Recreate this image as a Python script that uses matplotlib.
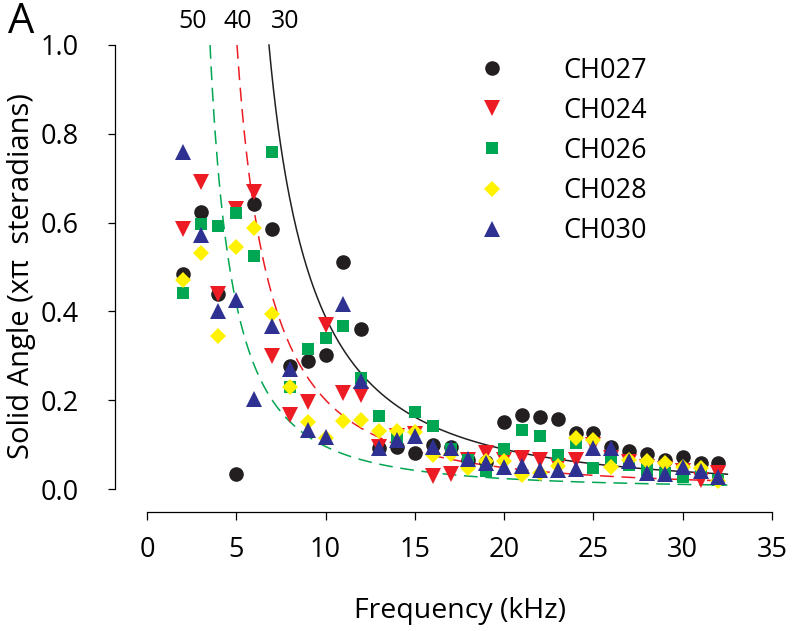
import numpy as np
import matplotlib
matplotlib.use("Agg")
import matplotlib.pyplot as plt

plt.rcParams['font.family'] = ['Open Sans', 'DejaVu Sans']

# frequencies (kHz)
freq = [2, 3, 4, 5, 6, 7, 8, 9, 10, 11, 12, 13, 14, 15, 16, 17,
        18, 19, 20, 21, 22, 23, 24, 25, 26, 27, 28, 29, 30, 31, 32]

# solid angle (x pi steradians) per animal
ch027 = [0.485, 0.624, 0.44, 0.033, 0.643, 0.585, 0.276, 0.289, 0.302, 0.512, 0.361,
         0.092, 0.095, 0.082, 0.100, 0.095, 0.065, 0.060, 0.152, 0.167, 0.162, 0.157,
         0.127, 0.126, 0.095, 0.086, 0.079, 0.065, 0.072, 0.059, 0.059]
ch024 = [0.585, 0.691, 0.44, 0.630, 0.670, 0.299, 0.167, 0.196, 0.370, 0.216, 0.212,
         0.095, 0.120, 0.125, 0.029, 0.034, 0.065, 0.082, 0.065, 0.069, 0.065, 0.052,
         0.065, 0.100, 0.070, 0.060, 0.050, 0.045, 0.040, 0.020, 0.035]
ch026 = [0.442, 0.597, 0.592, 0.622, 0.524, 0.759, 0.229, 0.315, 0.340, 0.368, 0.250,
         0.165, 0.115, 0.173, 0.142, 0.090, 0.065, 0.041, 0.090, 0.132, 0.120, 0.077,
         0.103, 0.047, 0.069, 0.055, 0.043, 0.035, 0.028, 0.035, 0.020]
ch028 = [0.470, 0.532, 0.345, 0.546, 0.588, 0.394, 0.229, 0.152, 0.114, 0.154, 0.156,
         0.131, 0.131, 0.129, 0.077, 0.080, 0.047, 0.062, 0.062, 0.032, 0.035, 0.052,
         0.114, 0.111, 0.049, 0.065, 0.062, 0.058, 0.049, 0.047, 0.017]
ch030 = [0.759, 0.573, 0.400, 0.425, 0.202, 0.368, 0.270, 0.133, 0.117, 0.417, 0.243,
         0.092, 0.110, 0.120, 0.095, 0.092, 0.067, 0.058, 0.049, 0.052, 0.043, 0.043,
         0.044, 0.093, 0.092, 0.062, 0.035, 0.034, 0.049, 0.040, 0.028]

series = [('CH027', ch027, 'o', '#231f20', 10.5),
          ('CH024', ch024, 'v', '#ed1c24', 11),
          ('CH026', ch026, 's', '#00a651', 9),
          ('CH028', ch028, 'D', '#fff200', 8.5),
          ('CH030', ch030, '^', '#2e3192', 11)]

# model curves: frequency where solid angle reaches 1.0 (x pi sr)
curve_labels = ['30', '40', '50']
curve_ftop = [6.83, 5.04, 3.53]
curve_styles = [('#231f20', '-'), ('#ed1c24', (0, (9, 5))), ('#00a651', (0, (9, 5)))]

fig = plt.figure(figsize=(8, 6.31), dpi=100)
ax = fig.add_axes([0.18375, 0.225, 0.78125, 0.7037])

for ftop, (col, ls) in zip(curve_ftop, curve_styles):
    k = 0.866 * ftop
    f = np.linspace(ftop, 32.5, 400)
    s = k / f
    omega = 2 * (1 - np.sqrt(1 - s ** 2))
    ax.plot(f, omega, color=col, linestyle=ls, lw=1.1, clip_on=False)

for name, vals, mk, col, ms in series:
    ax.plot(freq, vals, linestyle='none', marker=mk, color=col, markersize=ms,
            markeredgewidth=0, label=name, clip_on=False)

ax.set_xlim(0, 35)
ax.set_ylim(0, 1.0)
ax.set_xticks(range(0, 36, 5))
ax.set_yticks([0.0, 0.2, 0.4, 0.6, 0.8, 1.0])
ax.set_yticklabels(['0.0', '0.2', '0.4', '0.6', '0.8', '1.0'])

for side in ['top', 'right']:
    ax.spines[side].set_visible(False)
ax.spines['left'].set_position(('outward', 23))
ax.spines['bottom'].set_position(('outward', 16.5))
ax.spines['left'].set_linewidth(0.9)
ax.spines['bottom'].set_linewidth(0.9)
ax.tick_params(axis='both', labelsize=19.5, width=0.9, length=5)
ax.tick_params(axis='y', pad=21)
ax.tick_params(axis='x', length=6, pad=11)

ax.set_xlabel('Frequency (kHz)', fontsize=20.5, labelpad=24)
ax.set_ylabel('Solid Angle (x\u03c0  steradians)', fontsize=21)
ax.yaxis.set_label_coords(-0.178, 0.48)

leg = ax.legend(loc='upper left', bbox_to_anchor=(0.53, 0.974), frameon=False,
                fontsize=19.5, handlelength=1.0, handletextpad=2.15, labelspacing=0.45,
                borderpad=0, borderaxespad=0)

for lab, xpx in zip(curve_labels[::-1], [193, 238, 285]):
    fig.text(xpx / 800, 1 - 22 / 631, lab, fontsize=18, ha='center', va='center')

fig.text(8 / 800, 1 - 22 / 631, 'A', fontsize=30, ha='left', va='center')

fig.savefig('out.png', dpi=100)
